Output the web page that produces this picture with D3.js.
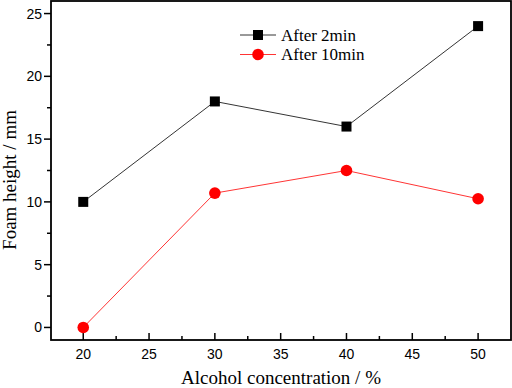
<!DOCTYPE html>
<html>
<head>
<meta charset="UTF-8" />
<script src="https://cdn.jsdelivr.net/npm/d3@7/dist/d3.min.js"></script>
<style>
  html, body { margin: 0; padding: 0; background: #fff; }
  svg { display: block; }
</style>
</head>
<body>
<div id="chart"></div>
<script>
// data
const concentration = [20, 30, 40, 50];
const after2min = [10, 18, 16, 24];
const after10min = [0, 10.7, 12.5, 10.25];
const xTicks = [20, 25, 30, 35, 40, 45, 50];
const yTicks = [0, 5, 10, 15, 20, 25];
const seriesNames = ["After 2min", "After 10min"];

const width = 512, height = 388;
const margin = { top: 1, right: 1, bottom: 48, left: 51 };
const serif = "'Liberation Serif', 'Times New Roman', serif";
const sans = "'Liberation Sans', Arial, sans-serif";

const svg = d3.select("#chart").append("svg")
  .attr("width", width)
  .attr("height", height);

const x = d3.scaleLinear().domain([17.55, 52.5]).range([margin.left, width - margin.right]);
const y = d3.scaleLinear().domain([-1, 26]).range([height - margin.bottom, margin.top]);

// minor ticks
const xMinor = d3.range(22.5, 50, 5);
const yMinor = d3.range(2.5, 26, 5);

const g = svg.append("g");

// x ticks (inward)
g.selectAll(".xmaj").data(xTicks).enter().append("line")
  .attr("x1", d => x(d)).attr("x2", d => x(d))
  .attr("y1", y(-1)).attr("y2", y(-1) - 7)
  .attr("stroke", "#000").attr("stroke-width", 1.5);
g.selectAll(".xmin").data(xMinor).enter().append("line")
  .attr("x1", d => x(d)).attr("x2", d => x(d))
  .attr("y1", y(-1)).attr("y2", y(-1) - 4)
  .attr("stroke", "#000").attr("stroke-width", 1.5);
g.selectAll(".xlab").data(xTicks).enter().append("text")
  .attr("x", d => x(d)).attr("y", y(-1) + 19)
  .attr("text-anchor", "middle")
  .attr("font-family", sans).attr("font-size", 14)
  .text(d => d);

// y ticks (outward)
g.selectAll(".ymaj").data(yTicks).enter().append("line")
  .attr("x1", x(17.55)).attr("x2", x(17.55) - 7)
  .attr("y1", d => y(d)).attr("y2", d => y(d))
  .attr("stroke", "#000").attr("stroke-width", 1.5);
g.selectAll(".ymin").data(yMinor).enter().append("line")
  .attr("x1", x(17.55)).attr("x2", x(17.55) - 4)
  .attr("y1", d => y(d)).attr("y2", d => y(d))
  .attr("stroke", "#000").attr("stroke-width", 1.5);
g.selectAll(".ylab").data(yTicks).enter().append("text")
  .attr("x", x(17.55) - 9).attr("y", d => y(d) + 5)
  .attr("text-anchor", "end")
  .attr("font-family", sans).attr("font-size", 14)
  .text(d => d);

// frame
svg.append("rect")
  .attr("x", margin.left).attr("y", margin.top)
  .attr("width", width - margin.left - margin.right)
  .attr("height", height - margin.top - margin.bottom)
  .attr("fill", "none").attr("stroke", "#000").attr("stroke-width", 1.8);

// series
const series = [
  { name: seriesNames[0], values: after2min, color: "#000", shape: "square" },
  { name: seriesNames[1], values: after10min, color: "#ff0000", shape: "circle" }
];

const line = d3.line().x((d, i) => x(concentration[i])).y(d => y(d));

function marker(sel, s, cx, cy) {
  if (s.shape === "square") {
    sel.append("rect").attr("x", cx - 5).attr("y", cy - 5)
      .attr("width", 10).attr("height", 10).attr("fill", s.color);
  } else {
    sel.append("circle").attr("cx", cx).attr("cy", cy).attr("r", 5.8).attr("fill", s.color);
  }
}

series.forEach(s => {
  svg.append("path").datum(s.values)
    .attr("d", line).attr("fill", "none")
    .attr("stroke", s.color).attr("stroke-width", 0.8);
  s.values.forEach((v, i) => marker(svg, s, x(concentration[i]), y(v)));
});

// legend
series.forEach((s, i) => {
  const ly = 35 + i * 19.5;
  svg.append("line").attr("x1", 240).attr("x2", 276).attr("y1", ly).attr("y2", ly)
    .attr("stroke", s.color).attr("stroke-width", 0.8);
  marker(svg, s, 258, ly);
  svg.append("text").attr("x", 281).attr("y", ly + 5.5)
    .attr("font-family", serif).attr("font-size", 17)
    .text(s.name);
});

// axis titles
svg.append("text")
  .attr("x", (margin.left + width - margin.right) / 2).attr("y", 384)
  .attr("text-anchor", "middle")
  .attr("font-family", serif).attr("font-size", 19)
  .text("Alcohol concentration / %");

svg.append("text")
  .attr("transform", "translate(16, 180) rotate(-90)")
  .attr("text-anchor", "middle")
  .attr("font-family", serif).attr("font-size", 19)
  .text("Foam height / mm");
</script>
</body>
</html>
